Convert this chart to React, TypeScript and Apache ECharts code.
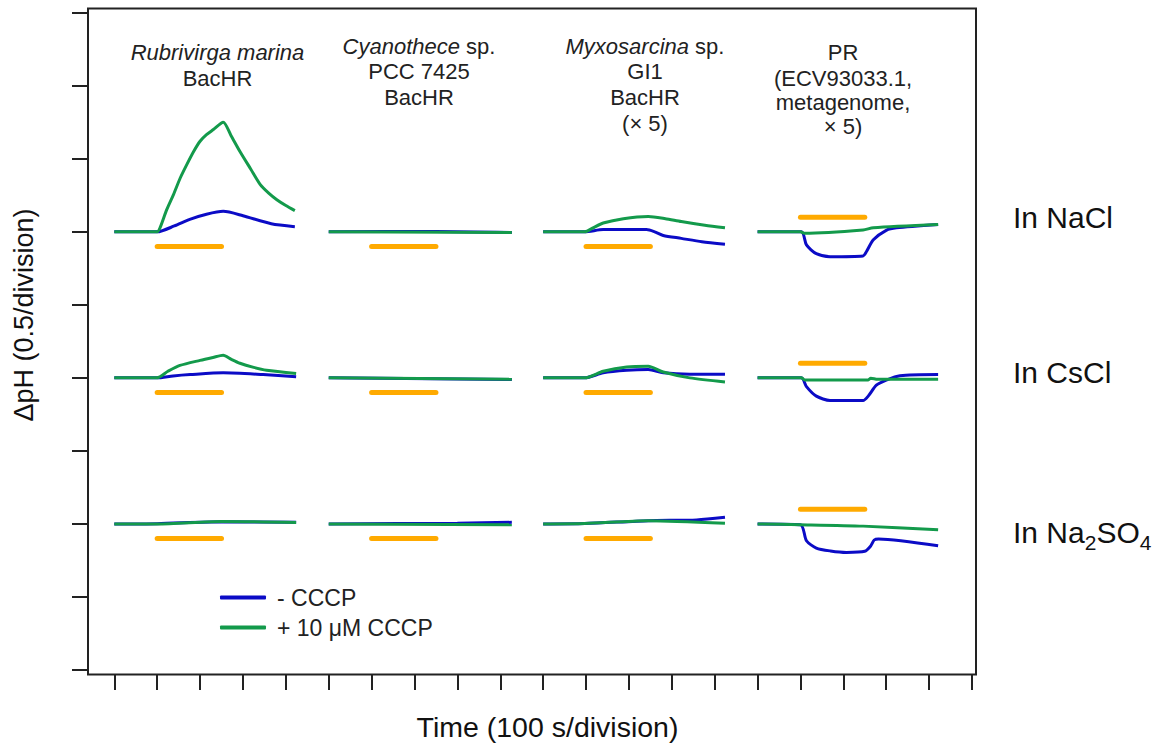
import { useEffect, useRef } from 'react';
import * as echarts from 'echarts';

const FONT = "'Liberation Sans', Arial, Helvetica, sans-serif";
const BLUE = '#0b0bc6';
const GREEN = '#139a4b';
const ORANGE = '#ffaa00';

// Time axis: seconds (100 s / division), ΔpH axis: 0.5 / division
const xTicks = { min: 0, max: 2000, interval: 100 };
const yTicks = { min: 0, max: 4.5, interval: 0.5 };

// panel start times (s) and row baselines (ΔpH offsets)
const panelStarts = [0, 500, 1000, 1500];
const rowBaselines = [3.0, 2.0, 1.0];
const rowLabels = ['In NaCl', 'In CsCl', 'In Na2SO4'];
const lightOn = [100, 250];
const lightBarOffset = [-0.1, -0.1, -0.1, 0.1];

const minusName = '- CCCP';
const plusName = '+ 10 \u03bcM CCCP';

// Rubrivirga marina BacHR  [time s, ΔpH]
const rmNaClMinus = [[0, 0], [100, 0], [140, 0.04], [176, 0.085], [215, 0.12], [254, 0.14], [300, 0.11], [366, 0.055], [421, 0.035]];
const rmNaClPlus = [[0, 0], [100, 0], [107, 0.03], [122, 0.15], [138, 0.255], [154, 0.37], [169, 0.46], [185, 0.55], [200, 0.62], [215, 0.665], [231, 0.7], [254, 0.75], [272, 0.66], [293, 0.55], [318, 0.43], [340, 0.325], [360, 0.265], [379, 0.22], [400, 0.18], [421, 0.145]];
const rmCsClMinus = [[0, 0], [99, 0], [137, 0.013], [177, 0.0225], [254, 0.035], [347, 0.0225], [424, 0.0075]];
const rmCsClPlus = [[0, 0], [99, 0], [125, 0.045], [153, 0.085], [200, 0.12], [230, 0.14], [254, 0.155], [272, 0.128], [293, 0.1], [325, 0.072], [355, 0.0525], [424, 0.03]];
const rmNa2SO4Minus = [[0, 0], [100, 0.002], [250, 0.015], [424, 0.012]];
const rmNa2SO4Plus = [[0, 0], [100, 0], [250, 0.0175], [424, 0.01]];

// Cyanothece sp. PCC 7425 BacHR
const cyNaClMinus = [[0, 0], [250, 0.002], [427, -0.005]];
const cyNaClPlus = [[0, 0], [427, -0.005]];
const cyCsClMinus = [[0, 0], [427, -0.012]];
const cyCsClPlus = [[0, 0], [427, -0.01]];
const cyNa2SO4Minus = [[0, 0], [300, 0.005], [427, 0.011]];
const cyNa2SO4Plus = [[0, 0], [427, -0.005]];

// Myxosarcina sp. GI1 BacHR (x 5)
const myNaClMinus = [[0, 0], [97, 0], [140, 0.015], [241, 0.015], [260, 0.0], [280, -0.025], [322, -0.045], [370, -0.068], [424, -0.085]];
const myNaClPlus = [[0, 0], [97, 0], [115, 0.025], [140, 0.06], [187, 0.09], [245, 0.105], [285, 0.09], [322, 0.07], [377, 0.045], [424, 0.0275]];
const myCsClMinus = [[0, 0], [97, 0], [140, 0.035], [195, 0.0525], [245, 0.0575], [280, 0.035], [342, 0.025], [424, 0.025]];
const myCsClPlus = [[0, 0], [97, 0], [140, 0.045], [195, 0.075], [245, 0.08], [280, 0.04], [342, 0], [424, -0.0275]];
const myNa2SO4Minus = [[0, 0], [97, 0.003], [245, 0.0225], [358, 0.0275], [424, 0.045]];
const myNa2SO4Plus = [[0, 0], [97, 0.003], [245, 0.0225], [424, 0.005]];

// PR (ECV93033.1, metagenome, x 5)
const prNaClMinus = [[0, 0], [102, 0], [114, -0.09], [137, -0.15], [169, -0.17], [246, -0.165], [254, -0.135], [270, -0.055], [300, 0.01], [324, 0.0275], [421, 0.05]];
const prNaClPlus = [[0, 0], [100, 0], [110, -0.01], [246, 0.012], [270, 0.028], [421, 0.05]];
const prCsClMinus = [[0, 0], [102, 0], [114, -0.06], [137, -0.125], [169, -0.155], [246, -0.155], [258, -0.125], [277, -0.05], [300, -0.015], [332, 0.015], [421, 0.0225]];
const prCsClPlus = [[0, 0], [102, 0], [110, -0.015], [258, -0.015], [264, -0.002], [280, -0.01], [421, -0.01]];
const prNa2SO4Minus = [[0, 0], [100, -0.005], [114, -0.115], [137, -0.165], [170, -0.185], [207, -0.195], [250, -0.1875], [264, -0.15], [272, -0.11], [282, -0.1025], [421, -0.15]];
const prNa2SO4Plus = [[0, 0], [100, -0.005], [246, -0.015], [421, -0.04]];

const traces = [
  [rmNaClMinus, rmNaClPlus, rmCsClMinus, rmCsClPlus, rmNa2SO4Minus, rmNa2SO4Plus],
  [cyNaClMinus, cyNaClPlus, cyCsClMinus, cyCsClPlus, cyNa2SO4Minus, cyNa2SO4Plus],
  [myNaClMinus, myNaClPlus, myCsClMinus, myCsClPlus, myNa2SO4Minus, myNa2SO4Plus],
  [prNaClMinus, prNaClPlus, prCsClMinus, prCsClPlus, prNa2SO4Minus, prNa2SO4Plus],
];

const buildOption = () => {
  const series: any[] = [];
  panelStarts.forEach((t0, p) => {
    rowBaselines.forEach((base, r) => {
      const minus = traces[p][r * 2];
      const plus = traces[p][r * 2 + 1];
      series.push({
        name: minusName, type: 'line', symbol: 'none', smooth: 0.25,
        lineStyle: { color: BLUE, width: 3 }, itemStyle: { color: BLUE },
        data: minus.map(([t, v]) => [t0 + t, base + v]),
      });
      series.push({
        name: plusName, type: 'line', symbol: 'none', smooth: 0.25,
        lineStyle: { color: GREEN, width: 3 }, itemStyle: { color: GREEN },
        data: plus.map(([t, v]) => [t0 + t, base + v]),
      });
      series.push({
        name: 'light', type: 'line', symbol: 'none',
        lineStyle: { color: ORANGE, width: 5, cap: 'round' },
        data: lightOn.map((t) => [t0 + t, base + lightBarOffset[p]]),
      });
    });
  });

  const titleStyle = { fontSize: 22, fontFamily: FONT, fill: '#222', align: 'center', verticalAlign: 'middle' };
  const italic = { fontStyle: 'italic', fontSize: 22, fontFamily: FONT, fill: '#222' };
  const titleLine = (x: number, y: number, text: string) => ({
    type: 'text', x, y, silent: true,
    style: { ...titleStyle, text, rich: { i: italic, n: { fontSize: 22, fontFamily: FONT, fill: '#222' } } },
  });

  const rowLabelY = [217, 372, 532];
  const graphic: any[] = [
    { type: 'rect', shape: { x: 88, y: 8.5, width: 888, height: 666 }, style: { fill: 'none', stroke: '#222', lineWidth: 2 }, silent: true },
    titleLine(217.5, 52, '{i|Rubrivirga marina}'),
    titleLine(217.5, 78, 'BacHR'),
    titleLine(419, 46.5, '{i|Cyanothece}{n| sp.}'),
    titleLine(419, 71.5, 'PCC 7425'),
    titleLine(419, 97, 'BacHR'),
    titleLine(645, 46.5, '{i|Myxosarcina}{n| sp.}'),
    titleLine(645, 71.5, 'GI1'),
    titleLine(645, 97, 'BacHR'),
    titleLine(645, 123.5, '(\u00d7 5)'),
    titleLine(843, 52.5, 'PR'),
    titleLine(843, 78, '(ECV93033.1,'),
    titleLine(843, 102, 'metagenome,'),
    titleLine(843, 126.7, '\u00d7 5)'),
    {
      type: 'text', x: 547.5, y: 727, silent: true,
      style: { text: 'Time (100 s/division)', fontSize: 28.5, fontFamily: FONT, fill: '#111', align: 'center', verticalAlign: 'middle' },
    },
    {
      type: 'text', x: 24, y: 315, rotation: Math.PI / 2, silent: true,
      style: { text: '\u0394pH (0.5/division)', fontSize: 27, fontFamily: FONT, fill: '#111', align: 'center', verticalAlign: 'middle' },
    },
  ];
  rowLabels.forEach((lbl, i) => {
    const text = lbl === 'In Na2SO4' ? '{n|In Na}{s|2}{n|SO}{s|4}' : '{n|' + lbl + '}';
    graphic.push({
      type: 'text', x: 1013, y: rowLabelY[i], silent: true,
      style: {
        text, fill: '#111', align: 'left', verticalAlign: 'middle', fontSize: 30, fontFamily: FONT,
        rich: {
          n: { fontSize: 30, fontFamily: FONT, fill: '#111' },
          s: { fontSize: 21, fontFamily: FONT, fill: '#111', padding: [20, 0, 0, 0] },
        },
      },
    });
  });

  return {
    animation: false,
    backgroundColor: '#fff',
    grid: { left: 114.3, right: 188, top: 12.7, bottom: 75 },
    xAxis: {
      type: 'value', ...xTicks, offset: 4,
      axisLine: { show: false, onZero: false },
      axisTick: { show: true, inside: false, length: 16, lineStyle: { color: '#222', width: 2 } },
      axisLabel: { show: false }, splitLine: { show: false },
    },
    yAxis: {
      type: 'value', ...yTicks, offset: 26.3,
      axisLine: { show: false, onZero: false },
      axisTick: { show: true, inside: false, length: 16, lineStyle: { color: '#222', width: 2 } },
      axisLabel: { show: false }, splitLine: { show: false },
    },
    legend: {
      data: [minusName, plusName], orient: 'vertical', left: 220, top: 586, padding: 0,
      itemWidth: 46, itemHeight: 4, itemGap: 7, icon: 'roundRect', selectedMode: false,
      textStyle: { fontSize: 23, fontFamily: FONT, color: '#222', padding: [0, 0, 0, 6] },
    },
    series,
    graphic,
  };
};

export default function App() {
  const ref = useRef<HTMLDivElement>(null);
  useEffect(() => {
    const chart = echarts.init(ref.current!, null, { renderer: 'svg' });
    chart.setOption(buildOption() as any);
    return () => chart.dispose();
  }, []);
  return <div ref={ref} style={{ position: 'absolute', left: 0, top: 0, width: 1160, height: 745, background: '#fff' }} />;
}
